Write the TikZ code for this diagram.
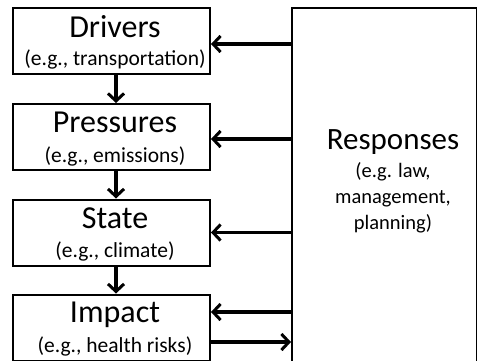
\documentclass[tikz,border=0pt]{standalone}
\usepackage{fontspec}
\setmainfont{Carlito}
\usetikzlibrary{arrows.meta}
\begin{document}
\begin{tikzpicture}[x=1pt,y=-1pt,
  box/.style={draw,line width=2pt,minimum width=197pt,minimum height=66pt,inner sep=0pt,align=center},
  arr/.style={line width=3.2pt,-{Straight Barb[length=7.5pt,width=16pt,line width=3pt]}},
  ttl/.style={font=\fontsize{32}{32}\selectfont},
  sub/.style={font=\fontsize{21.5}{26}\selectfont},
  rttl/.style={font=\fontsize{31}{31}\selectfont},
  rsub/.style={font=\fontsize{20.5}{26}\selectfont}]
\useasboundingbox (0,0) rectangle (477,360);
\node[box] (drivers) at (111.5,41) {};
\node[box] (pressures) at (111.5,137) {};
\node[box] (state) at (111.5,232.5) {};
\node[box] (impact) at (111.5,327.5) {};
\node[draw,line width=2pt,minimum width=185pt,minimum height=360pt,inner sep=0pt] (resp) at (384.5,188) {};
% texts
\node[ttl,anchor=base] (t1) at (115,37) {Drivers};
\node[sub,anchor=base] (s1) at (115,65) {(e.g., transportation)};
\node[ttl,anchor=base] (t2) at (115,132) {Pressures};
\node[sub,anchor=base] (s2) at (115,162) {(e.g., emissions)};
\node[ttl,anchor=base] (t3) at (115,228) {State};
\node[sub,anchor=base] (s3) at (115,257) {(e.g., climate)};
\node[ttl,anchor=base] (t4) at (115,322) {Impact};
\node[sub,anchor=base] (s4) at (115,352) {(e.g., health risks)};
\node[rttl,anchor=base] (rt) at (393,149) {Responses};
\node[rsub,anchor=base] (rs1) at (393,177) {(e.g. law,};
\node[rsub,anchor=base] (rs2) at (393,203) {management,};
\node[rsub,anchor=base] (rs3) at (393,229) {planning)};
% vertical arrows
\draw[arr] ([xshift=4.5pt]drivers.south) -- ([xshift=4.5pt]pressures.north);
\draw[arr] ([xshift=4.5pt]pressures.south) -- ([xshift=4.5pt]state.north);
\draw[arr] ([xshift=4.5pt]state.south) -- ([xshift=4.5pt]impact.north);
% response arrows
\draw[arr] (resp.west |- drivers.east) ++(0,3) coordinate (r1) -- (drivers.east |- r1);
\draw[arr] (resp.west |- pressures.east) ++(0,2) coordinate (r2) -- (pressures.east |- r2);
\draw[arr] (resp.west |- state.east) coordinate (r3) -- (state.east);
\draw[arr] (resp.west |- impact.east) ++(0,-15.5) coordinate (r4) -- (impact.east |- r4);
\draw[arr] (impact.east) ++(0,14.5) coordinate (r5) -- (resp.west |- r5);
\end{tikzpicture}
\end{document}
